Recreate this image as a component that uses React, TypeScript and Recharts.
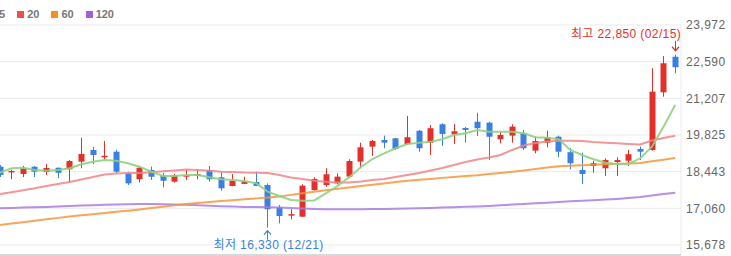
import { ComposedChart, Bar, Line, XAxis, YAxis, CartesianGrid, ReferenceDot } from "recharts"

const dates = [
  "11/20", "11/21", "11/22", "11/23", "11/24", "11/27", "11/28", "11/29", "11/30",
  "12/01", "12/04", "12/05", "12/06", "12/07", "12/08", "12/11", "12/12", "12/13", "12/14", "12/15",
  "12/18", "12/19", "12/20", "12/21", "12/22", "12/26", "12/27", "12/28",
  "01/02", "01/03", "01/04", "01/05", "01/08", "01/09", "01/10", "01/11", "01/12", "01/15", "01/16",
  "01/17", "01/18", "01/19", "01/22", "01/23", "01/24", "01/25", "01/26", "01/29", "01/30", "01/31",
  "02/01", "02/02", "02/05", "02/06", "02/07", "02/08", "02/13", "02/14", "02/15",
]

const opens = [
  18630, 18450, 18355, 18630, 18430, 18590, 18530, 18820, 19260, 19020,
  19195, 18380, 18155, 18505, 18280, 18065, 18290, 18280, 18505, 18230,
  17900, 17980, 18050, 17940, 17100, 16825, 16745, 17750, 17940, 18005,
  18255, 18820, 19385, 19635, 19700, 19485, 19985, 19535, 20230, 19850,
  20090, 20325, 20290, 19665, 19800, 19890, 19235, 19535, 19760, 19175,
  18505, 18655, 18570, 18805, 18855, 19295, 19260, 21435, 22775,
]
const highs = [
  18690, 18520, 18660, 18650, 18730, 18600, 18880, 19720, 19380, 19600,
  19260, 18440, 18630, 18630, 18390, 18355, 18530, 18505, 18656, 18440,
  18355, 18250, 18440, 18000, 17185, 17025, 17965, 18230, 18570, 18380,
  18910, 19535, 19635, 19800, 19710, 20540, 20015, 20200, 20265, 20230,
  20125, 20665, 20325, 19950, 20230, 20015, 19760, 19985, 19800, 19325,
  19160, 18855, 18945, 18985, 19260, 19385, 22340, 22805, 22850,
]
const lows = [
  18240, 18160, 18240, 18240, 18320, 18200, 18030, 18570, 18730, 18880,
  18390, 17940, 18030, 18130, 17850, 18030, 18130, 18155, 18064, 17725,
  17890, 17975, 17900, 16330, 16495, 16645, 16740, 17725, 17875, 17965,
  18195, 18570, 19035, 19325, 19260, 19450, 19195, 19070, 19410, 19485,
  19535, 19785, 18880, 19510, 19535, 19260, 19135, 19360, 18985, 18530,
  17980, 18405, 18280, 18280, 18655, 18880, 19235, 21270, 22150,
]
const closes = [
  18320, 18470, 18570, 18440, 18580, 18400, 18845, 19110, 19070, 19040,
  18440, 18000, 18590, 18250, 18100, 18305, 18310, 18355, 18155, 17815,
  18100, 18080, 17905, 17025, 16770, 16840, 17915, 18165, 18345, 18255,
  18845, 19360, 19600, 19535, 19300, 19740, 19325, 20080, 19865, 19965,
  20015, 20080, 19760, 19825, 20140, 19325, 19600, 19740, 19195, 18760,
  18355, 18760, 18880, 18880, 19100, 19195, 21460, 22530, 22380,
]

const ma5 = [
  18404, 18570, 18592, 18505, 18479, 18505, 18570, 18720, 18818, 18882,
  18856, 18758, 18630, 18441, 18279, 18279, 18317, 18317, 18230, 18155,
  18128, 18090, 18004, 17688, 17525, 17374, 17348, 17356, 17627, 17902,
  18230, 18607, 18920, 19135, 19324, 19486, 19535, 19572, 19663, 19825,
  19889, 20014, 19949, 19949, 19949, 19889, 19738, 19723, 19663, 19260,
  19071, 18909, 18781, 18732, 18732, 18947, 19384, 20138, 20954,
]
const ma20 = [
  17600, 17670, 17740, 17815, 17900, 17980, 18053, 18147, 18242, 18336,
  18374, 18392, 18392, 18418, 18456, 18486, 18524, 18505, 18475, 18441,
  18430, 18411, 18404, 18392, 18317, 18223, 18166, 18102, 18065, 18035,
  18035, 18072, 18128, 18166, 18242, 18317, 18392, 18486, 18581, 18694,
  18807, 18901, 18976, 19071, 19260, 19429, 19523, 19580, 19610, 19610,
  19599, 19561, 19535, 19512, 19486, 19467, 19617, 19711, 19799,
]
const ma60 = [
  16432, 16485, 16538, 16590, 16647, 16700, 16752, 16798, 16839, 16884,
  16930, 16971, 17016, 17069, 17118, 17171, 17224, 17261, 17295, 17333,
  17367, 17401, 17435, 17472, 17506, 17567, 17627, 17684, 17744, 17797,
  17846, 17898, 17947, 18000, 18049, 18102, 18136, 18170, 18208, 18242,
  18276, 18309, 18355, 18396, 18441, 18487, 18539, 18596, 18649, 18668,
  18683, 18702, 18717, 18735, 18751, 18769, 18833, 18894, 18958,
]
const ma120 = [
  17062, 17073, 17088, 17103, 17114, 17129, 17148, 17163, 17178, 17194,
  17205, 17216, 17224, 17224, 17216, 17205, 17190, 17175, 17160, 17141,
  17126, 17114, 17107, 17099, 17088, 17069, 17050, 17035, 17024, 17024,
  17024, 17028, 17031, 17035, 17043, 17050, 17062, 17073, 17088, 17103,
  17118, 17133, 17152, 17175, 17201, 17224, 17250, 17273, 17299, 17322,
  17344, 17367, 17390, 17416, 17450, 17488, 17544, 17597, 17650,
]

const yTicks = [15678, 17060, 18443, 19825, 21207, 22590, 23972]
const gridDates = dates.filter((_, i) => i % 7 === 6)

const legendLabels = ["5", "20", "60", "120"]
const legendColors = ["#8fd27f", "#f04e4e", "#f98b22", "#a35fd9"]

const highPoint = { date: "02/15", value: 22850, label: "최고 22,850 (02/15)" }
const lowPoint = { date: "12/21", value: 16330, label: "최저 16,330 (12/21)" }

const RED = "#e3302b"
const BLUE = "#3a7fe2"

const data = dates.map((date, i) => ({
  date,
  range: [lows[i], highs[i]],
  open: opens[i],
  high: highs[i],
  low: lows[i],
  close: closes[i],
  ma5: ma5[i],
  ma20: ma20[i],
  ma60: ma60[i],
  ma120: ma120[i],
}))

const fmt = new Intl.NumberFormat("en-US")
const labelFont = "'Liberation Sans', 'Noto Sans CJK KR', sans-serif"

function Candle(props: any) {
  const { x, y, width, height, payload } = props
  const { open, close, high, low } = payload
  const color = close >= open ? RED : BLUE
  const top = Math.min(y, y + height)
  const h = Math.abs(height)
  const span = high - low
  const py = (v: number) => (span === 0 ? top : top + ((high - v) / span) * h)
  const cx = Math.floor(x + width / 2) + 0.5
  const bTop = py(Math.max(open, close))
  const bBot = py(Math.min(open, close))
  return (
    <g>
      <line x1={cx} x2={cx} y1={top} y2={top + h} stroke={color} strokeWidth={1} />
      <rect x={cx - width / 2} y={bTop} width={width} height={Math.max(bBot - bTop, 1.5)} fill={color} />
    </g>
  )
}

function HighMark(props: any) {
  const { cx, cy } = props
  const ax = Math.floor(cx) + 0.5
  return (
    <g>
      <line x1={ax} x2={ax} y1={cy - 14} y2={cy - 4} stroke={RED} strokeWidth={1} />
      <path d={`M${ax - 3.5},${cy - 8} L${ax},${cy - 4} L${ax + 3.5},${cy - 8}`} fill="none" stroke={RED} strokeWidth={1.2} />
      <text x={cx + 6} y={cy - 20} textAnchor="end" dominantBaseline="middle" fill={RED} fontSize={12}
        letterSpacing={0.4} fontFamily={labelFont}>
        {highPoint.label}
      </text>
    </g>
  )
}

function LowMark(props: any) {
  const { cx, cy } = props
  const ax = Math.floor(cx) + 0.5
  return (
    <g>
      <line x1={ax} x2={ax} y1={cy + 3} y2={cy + 12} stroke={BLUE} strokeWidth={1} />
      <path d={`M${ax - 3.5},${cy + 7} L${ax},${cy + 3} L${ax + 3.5},${cy + 7}`} fill="none" stroke={BLUE} strokeWidth={1.2} />
      <text x={cx + 1} y={cy + 18} textAnchor="middle" dominantBaseline="middle" fill={BLUE} fontSize={12}
        letterSpacing={0.4} fontFamily={labelFont}>
        {lowPoint.label}
      </text>
    </g>
  )
}

export default function App() {
  return (
    <div style={{ position: "absolute", left: -6, top: 0, width: 737, height: 285 }}>
      <div
        style={{
          position: "absolute",
          left: -5,
          top: 7,
          display: "flex",
          alignItems: "center",
          gap: 12,
          fontFamily: "'Liberation Sans', Arial, sans-serif",
          fontSize: 11,
          fontWeight: "bold",
          color: "#777",
          lineHeight: "14px",
        }}
      >
        {legendLabels.map((label, i) => (
          <div key={label} style={{ display: "flex", alignItems: "center", gap: 3 }}>
            <span style={{ display: "inline-block", width: 7, height: 7, background: legendColors[i] }} />
            <span>{label}</span>
          </div>
        ))}
      </div>
      <ComposedChart width={737} height={285} data={data} margin={{ top: 25, right: 0, bottom: 0, left: 0 }}>
        <CartesianGrid stroke="#ebebeb" />
        <XAxis
          dataKey="date"
          ticks={gridDates}
          interval={0}
          tick={false}
          tickLine={false}
          axisLine={{ stroke: "#bbbbbb" }}
          height={30}
        />
        <YAxis
          orientation="right"
          domain={[15300, 23972]}
          ticks={yTicks}
          allowDataOverflow
          width={50}
          axisLine={false}
          tickLine={false}
          tickSize={0}
          tickMargin={5}
          tickFormatter={(v: number) => fmt.format(v)}
          tick={{ fill: "#666", fontSize: 12, letterSpacing: 0.5, fontFamily: "'Liberation Sans', Arial, sans-serif" }}
        />
        <Line dataKey="ma120" type="linear" stroke="#a97ddf" strokeWidth={2} strokeOpacity={0.85} dot={false} isAnimationActive={false} />
        <Line dataKey="ma60" type="linear" stroke="#f8953a" strokeWidth={2} strokeOpacity={0.85} dot={false} isAnimationActive={false} />
        <Line dataKey="ma20" type="linear" stroke="#f08585" strokeWidth={2} strokeOpacity={0.85} dot={false} isAnimationActive={false} />
        <Line dataKey="ma5" type="linear" stroke="#8fd27f" strokeWidth={2} strokeOpacity={0.9} dot={false} isAnimationActive={false} />
        <Bar dataKey="range" barSize={6} shape={Candle} isAnimationActive={false} />
        <ReferenceDot x={highPoint.date} y={highPoint.value} r={0} shape={HighMark} ifOverflow="visible" />
        <ReferenceDot x={lowPoint.date} y={lowPoint.value} r={0} shape={LowMark} ifOverflow="visible" />
      </ComposedChart>
    </div>
  )
}
